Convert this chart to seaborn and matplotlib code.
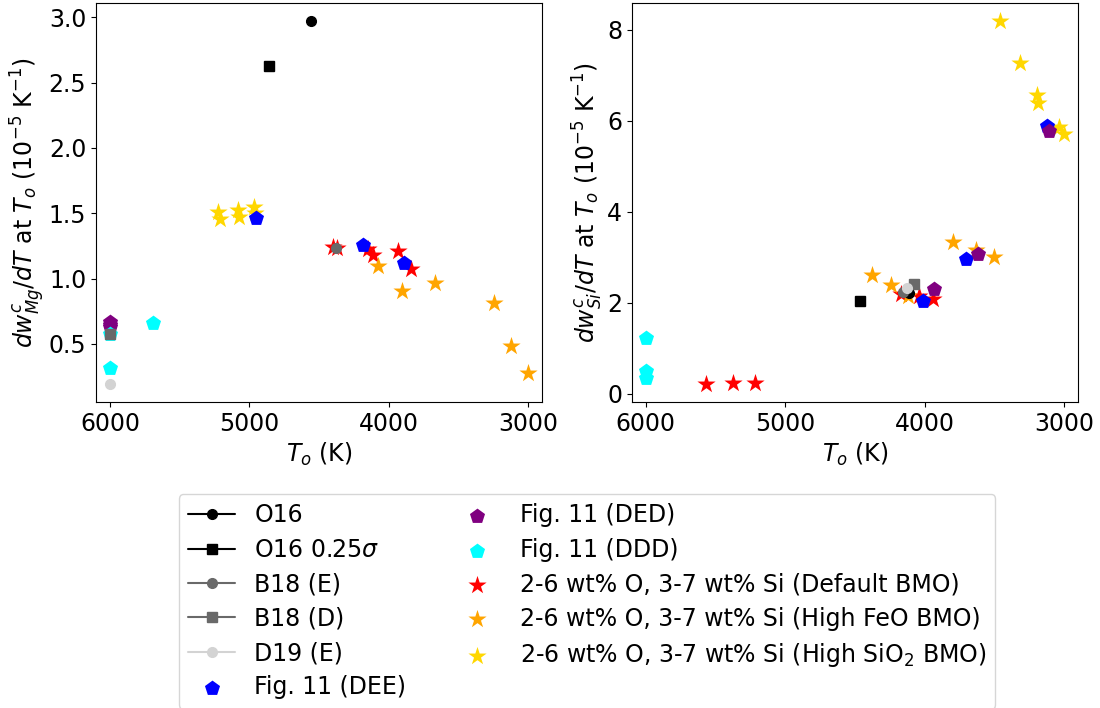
import matplotlib
matplotlib.use("Agg")
import matplotlib.pyplot as plt
import seaborn as sns
import pandas as pd

# ---------------- data ----------------
# Left panel: Mg
o16_T_mg = [4560]
o16_mg = [2.97]
o16s_T_mg = [4857]
o16s_mg = [2.63]
b18e_T_mg = [4378]
b18e_mg = [1.237]
b18d_T_mg = [6000]
b18d_mg = [0.58]
d19e_T_mg = [6000]
d19e_mg = [0.195]
dee_T_mg = [4954, 4184, 3889]
dee_mg = [1.462, 1.258, 1.122]
ded_T_mg = [6000, 6000, 6000]
ded_mg = [0.665, 0.645, 0.63]
ddd_T_mg = [6000, 6000, 5694]
ddd_mg = [0.58, 0.315, 0.659]
dflt_T_mg = [4397, 4373, 4146, 4110, 3935, 3841]
dflt_mg = [1.240, 1.233, 1.225, 1.181, 1.212, 1.074]
feo_T_mg = [4074, 3902, 3667, 3248, 3124, 3001]
feo_mg = [1.10, 0.908, 0.969, 0.812, 0.487, 0.276]
sio2_T_mg = [5223, 5210, 5079, 5072, 4964, 4958]
sio2_mg = [1.513, 1.455, 1.526, 1.474, 1.546, 1.50]

# Right panel: Si
o16_T_si = [4111]
o16_si = [2.22]
o16s_T_si = [4463]
o16s_si = [2.04]
b18e_T_si = [4159]
b18e_si = [2.24]
b18d_T_si = [4080]
b18d_si = [2.42]
d19e_T_si = [4128]
d19e_si = [2.33]
dee_T_si = [3126, 3704, 4015]
dee_si = [5.89, 2.97, 2.05]
ded_T_si = [3107, 3621, 3932]
ded_si = [5.78, 3.07, 2.31]
ddd_T_si = [6000, 6000, 6000]
ddd_si = [1.233, 0.498, 0.344]
dflt_T_si = [5565, 5371, 5218, 4171, 4040, 3943]
dflt_si = [0.22, 0.234, 0.249, 2.20, 2.16, 2.09]
feo_T_si = [4381, 4242, 4123, 3800, 3633, 3501]
feo_si = [2.62, 2.40, 2.16, 3.326, 3.17, 3.01]
sio2_T_si = [3460, 3317, 3197, 3190, 3042, 3000]
sio2_si = [8.19, 7.28, 6.57, 6.40, 5.86, 5.71]

x_ticks = [6000, 5000, 4000, 3000]
mg_ticks = [0.5, 1.0, 1.5, 2.0, 2.5, 3.0]
si_ticks = [0, 2, 4, 6, 8]

labels = ["O16", "O16 0.25$\\sigma$", "B18 (E)", "B18 (D)", "D19 (E)",
          "Fig. 11 (DEE)", "Fig. 11 (DED)", "Fig. 11 (DDD)",
          "2-6 wt% O, 3-7 wt% Si (Default BMO)",
          "2-6 wt% O, 3-7 wt% Si (High FeO BMO)",
          "2-6 wt% O, 3-7 wt% Si (High SiO$_2$ BMO)"]

# ---------------- style ----------------
sns.set_style("ticks", {"axes.edgecolor": "black", "xtick.color": "black",
                        "ytick.color": "black", "text.color": "black",
                        "axes.labelcolor": "black"})
plt.rcParams["font.family"] = ["DejaVu Sans"]
FS = 17
plt.rcParams["font.size"] = FS
plt.rcParams["xtick.labelsize"] = FS
plt.rcParams["ytick.labelsize"] = FS
plt.rcParams["axes.labelsize"] = FS

fig = plt.figure(figsize=(11, 7.08), dpi=100)
ax1 = fig.add_axes([0.0873, 0.4322, 0.4055, 0.5636])
ax2 = fig.add_axes([0.5743, 0.4322, 0.406, 0.5636])

line_specs = [("k", "o"), ("k", "s"), ("dimgray", "o"), ("dimgray", "s"), ("lightgray", "o")]
scat_specs = [("blue", "p", 130, 2), ("purple", "p", 130, 2), ("cyan", "p", 130, 2),
              ("red", "*", 190, 1), ("orange", "*", 190, 1), ("gold", "*", 190, 1)]

panels = [
    (ax1, [(o16_T_mg, o16_mg), (o16s_T_mg, o16s_mg), (b18e_T_mg, b18e_mg),
           (b18d_T_mg, b18d_mg), (d19e_T_mg, d19e_mg)],
          [(dee_T_mg, dee_mg), (ded_T_mg, ded_mg), (ddd_T_mg, ddd_mg),
           (dflt_T_mg, dflt_mg), (feo_T_mg, feo_mg), (sio2_T_mg, sio2_mg)],
     r"$dw^c_{Mg}/dT$ at $T_o$ ($10^{-5}$ K$^{-1}$)", mg_ticks),
    (ax2, [(o16_T_si, o16_si), (o16s_T_si, o16s_si), (b18e_T_si, b18e_si),
           (b18d_T_si, b18d_si), (d19e_T_si, d19e_si)],
          [(dee_T_si, dee_si), (ded_T_si, ded_si), (ddd_T_si, ddd_si),
           (dflt_T_si, dflt_si), (feo_T_si, feo_si), (sio2_T_si, sio2_si)],
     r"$dw^c_{Si}/dT$ at $T_o$ ($10^{-5}$ K$^{-1}$)", si_ticks),
]

for pi, (ax, lines, scats, ylab, yt) in enumerate(panels):
    for i, ((T, v), (c, m)) in enumerate(zip(lines, line_specs)):
        ax.plot(T, v, linestyle="-", marker=m, color=c, markersize=7,
                markeredgecolor=c, linewidth=1.5, zorder=3,
                label=labels[i] if pi == 0 else None)
    for j, ((T, v), (c, m, s, z)) in enumerate(zip(scats, scat_specs)):
        df = pd.DataFrame({"T": T, "v": v})
        sns.scatterplot(data=df, x="T", y="v", marker=m, s=s, color=c,
                        linewidth=0, edgecolor=c, zorder=z, ax=ax,
                        label=labels[5 + j] if pi == 0 else None, legend=False)
    ax.set_xlim(6100, 2900)
    ax.set_xticks(x_ticks)
    ax.set_yticks(yt)
    ax.set_xlabel(r"$T_o$ (K)")
    ax.set_ylabel(ylab, labelpad=1)
    if ax.get_legend() is not None:
        ax.get_legend().remove()

h, l = ax1.get_legend_handles_labels()
order = [l.index(x) for x in labels]
fig.legend([h[k] for k in order], [l[k] for k in order],
           loc="upper center", bbox_to_anchor=(587 / 1100, 1 - 494 / 708),
           borderaxespad=0, ncol=2, fontsize=FS, labelspacing=0.44)

fig.savefig("out.png", dpi=100)
